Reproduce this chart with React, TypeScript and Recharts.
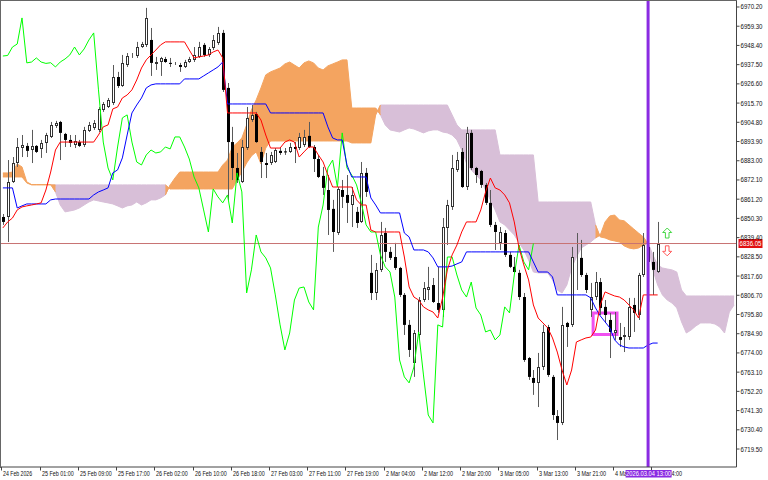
import React from "react";
import {
  ComposedChart,
  Bar,
  Line,
  Area,
  XAxis,
  YAxis,
  ReferenceLine,
  ReferenceArea,
  ReferenceDot,
} from "recharts";

const FONT = "'Liberation Sans', Arial, sans-serif";

// ---- candles (hourly) ----
const opens = [
  6851.1, 6851.1, 6871.0, 6881.7, 6890.2, 6891.4, 6889.1, 6891.4, 6889.7, 6893.1,
  6896.5, 6902.7, 6905.0, 6898.2, 6894.8, 6891.9, 6893.6, 6891.9, 6899.9, 6901.6,
  6900.5, 6911.8, 6913.5, 6915.8, 6930.5, 6925.4, 6937.3, 6942.2, 6942.4, 6947.5,
  6948.7, 6951.5, 6937.9, 6939.0, 6940.7, 6938.5, 6938.5, 6937.3, 6936.2, 6939.0,
  6940.2, 6941.9, 6948.7, 6943.0, 6947.0, 6949.8, 6955.5, 6924.3, 6893.6, 6878.9,
  6871.0, 6890.2, 6906.1, 6909.5, 6888.0, 6881.7, 6881.7, 6882.3, 6888.6, 6888.3,
  6888.0, 6890.8, 6890.2, 6891.9, 6897.1, 6890.8, 6884.0, 6874.4, 6866.4, 6855.7,
  6842.0, 6866.4, 6863.6, 6857.9, 6854.0, 6848.3, 6876.1, 6819.4, 6808.0, 6821.1,
  6842.0, 6831.3, 6828.4, 6822.2, 6806.9, 6789.9, 6768.3, 6784.2, 6804.0, 6809.7,
  6812.5, 6802.3, 6798.4, 6844.9, 6856.8, 6877.8, 6888.0, 6868.1, 6898.8, 6878.9,
  6877.2, 6869.3, 6859.1, 6846.6, 6836.4, 6842.0, 6829.6, 6822.8, 6819.4, 6805.7,
  6771.1, 6759.8, 6757.0, 6766.0, 6788.7, 6760.4, 6738.2, 6734.3, 6791.0, 6789.9,
  6827.9, 6827.9, 6818.2, 6798.4, 6805.7, 6814.2, 6800.1, 6792.7, 6785.3, 6783.0,
  6783.0, 6783.0, 6801.2, 6795.5, 6818.2, 6834.1, 6825.6, 6819.9,
];
const highs = [
  6852.8, 6883.4, 6885.1, 6895.9, 6897.6, 6893.1, 6900.5, 6891.9, 6894.8, 6898.8,
  6905.0, 6905.6, 6905.6, 6898.8, 6897.6, 6897.6, 6894.8, 6902.2, 6905.0, 6906.1,
  6913.5, 6916.3, 6918.6, 6937.3, 6933.4, 6943.0, 6944.1, 6944.1, 6950.4, 6950.4,
  6969.7, 6958.3, 6941.9, 6941.9, 6941.9, 6941.3, 6939.0, 6938.5, 6940.2, 6941.9,
  6947.5, 6950.4, 6949.8, 6947.5, 6954.3, 6958.9, 6957.2, 6927.1, 6902.2, 6887.4,
  6894.8, 6913.5, 6914.6, 6910.7, 6890.8, 6887.4, 6888.0, 6890.2, 6890.8, 6890.2,
  6893.1, 6893.6, 6898.8, 6900.5, 6905.0, 6891.9, 6886.3, 6879.5, 6874.9, 6860.8,
  6868.1, 6872.1, 6874.9, 6868.1, 6856.8, 6882.3, 6878.9, 6829.6, 6825.0, 6848.3,
  6844.9, 6834.1, 6836.4, 6822.8, 6808.0, 6792.7, 6787.0, 6805.7, 6814.2, 6822.8,
  6816.5, 6822.8, 6850.5, 6860.8, 6886.3, 6888.0, 6890.2, 6902.2, 6900.5, 6879.5,
  6877.8, 6870.4, 6866.4, 6848.3, 6845.4, 6843.7, 6831.3, 6828.4, 6821.1, 6808.0,
  6771.7, 6764.3, 6774.0, 6789.9, 6789.9, 6761.5, 6741.6, 6800.1, 6791.6, 6834.1,
  6842.0, 6838.1, 6819.4, 6813.7, 6819.9, 6816.5, 6804.0, 6796.7, 6797.2, 6791.0,
  6788.7, 6805.2, 6805.2, 6819.4, 6842.0, 6838.1, 6831.3, 6848.3,
];
const lows = [
  6846.6, 6836.9, 6870.4, 6879.5, 6885.1, 6885.1, 6881.7, 6887.4, 6884.6, 6887.4,
  6895.9, 6901.6, 6883.4, 6890.8, 6890.8, 6890.2, 6890.8, 6890.8, 6899.3, 6900.5,
  6899.3, 6910.7, 6912.9, 6914.6, 6924.3, 6924.9, 6936.2, 6941.3, 6941.3, 6947.0,
  6947.5, 6931.1, 6934.5, 6931.1, 6938.5, 6936.2, 6937.3, 6933.4, 6935.6, 6938.5,
  6939.0, 6941.3, 6941.9, 6941.9, 6945.8, 6948.7, 6922.0, 6860.8, 6872.1, 6870.4,
  6870.4, 6889.1, 6905.0, 6893.1, 6873.2, 6873.2, 6880.6, 6881.7, 6886.3, 6886.3,
  6887.4, 6881.7, 6889.1, 6890.8, 6890.2, 6876.6, 6873.2, 6863.6, 6840.9, 6831.3,
  6840.9, 6856.2, 6847.7, 6845.4, 6844.9, 6847.7, 6862.5, 6804.0, 6804.0, 6819.9,
  6825.6, 6826.7, 6821.1, 6805.7, 6784.2, 6771.7, 6760.4, 6781.4, 6802.9, 6804.0,
  6802.3, 6796.7, 6794.4, 6835.2, 6855.1, 6876.6, 6867.6, 6866.4, 6877.8, 6870.4,
  6867.6, 6857.9, 6845.4, 6832.4, 6832.4, 6828.4, 6822.2, 6819.4, 6804.0, 6768.9,
  6758.7, 6750.2, 6743.3, 6764.3, 6760.4, 6736.0, 6724.6, 6733.1, 6777.4, 6788.7,
  6809.7, 6817.1, 6808.0, 6794.4, 6804.0, 6795.5, 6791.0, 6771.1, 6781.4, 6777.4,
  6774.5, 6781.4, 6785.9, 6792.7, 6817.1, 6823.9, 6806.9, 6819.4,
];
const closes = [
  6848.3, 6871.0, 6881.7, 6890.8, 6891.9, 6888.6, 6891.4, 6888.0, 6893.1, 6897.6,
  6903.3, 6904.4, 6898.8, 6894.8, 6893.1, 6894.2, 6891.4, 6900.5, 6903.3, 6904.4,
  6912.4, 6915.2, 6917.5, 6930.5, 6925.4, 6938.5, 6942.4, 6942.7, 6947.5, 6949.2,
  6964.0, 6938.5, 6939.0, 6941.3, 6939.0, 6938.2, 6938.6, 6936.2, 6939.0, 6940.7,
  6943.0, 6947.5, 6943.0, 6946.4, 6951.5, 6955.5, 6923.2, 6893.6, 6878.9, 6872.1,
  6890.8, 6907.3, 6909.0, 6893.6, 6882.3, 6880.6, 6886.3, 6889.1, 6887.4, 6888.0,
  6890.8, 6889.7, 6896.5, 6896.5, 6890.8, 6884.0, 6873.8, 6867.6, 6855.1, 6842.6,
  6867.0, 6862.5, 6859.1, 6863.6, 6847.7, 6876.1, 6865.3, 6808.0, 6821.1, 6840.9,
  6831.3, 6827.9, 6822.2, 6806.9, 6789.9, 6775.7, 6785.3, 6804.0, 6810.8, 6811.4,
  6802.9, 6798.4, 6845.4, 6857.9, 6878.9, 6883.4, 6868.1, 6898.8, 6878.9, 6874.9,
  6869.3, 6859.1, 6846.6, 6842.6, 6842.6, 6829.6, 6822.8, 6819.9, 6805.7, 6770.0,
  6760.4, 6757.0, 6766.0, 6785.9, 6761.5, 6738.8, 6734.3, 6789.9, 6788.7, 6828.4,
  6828.4, 6818.2, 6809.7, 6805.7, 6814.2, 6799.5, 6795.5, 6785.9, 6787.0, 6781.4,
  6784.2, 6800.1, 6796.7, 6818.2, 6835.2, 6825.6, 6821.1, 6836.05,
];

// ---- Ichimoku lines ----
const tenkan = [
  6844.9, 6848.3, 6850.5, 6855.1, 6856.8, 6857.4, 6857.9, 6858.5, 6859.1, 6866.4,
  6876.6, 6889.1, 6893.6, 6893.6, 6893.6, 6893.6, 6893.6, 6893.6, 6893.6, 6893.6,
  6897.6, 6902.2, 6903.3, 6912.4, 6913.5, 6918.6, 6920.3, 6923.2, 6928.8, 6935.6,
  6940.2, 6943.0, 6945.8, 6948.7, 6950.4, 6950.4, 6950.4, 6950.4, 6950.4, 6945.8,
  6941.3, 6941.9, 6942.4, 6943.0, 6944.7, 6945.8, 6941.3, 6910.1, 6910.1, 6910.1,
  6910.1, 6910.1, 6910.1, 6910.1, 6906.1, 6897.6, 6890.2, 6890.2, 6890.2, 6893.6,
  6894.8, 6893.6, 6885.1, 6888.0, 6890.8, 6890.8, 6886.3, 6882.3, 6874.9, 6868.1,
  6868.1, 6868.1, 6868.1, 6868.1, 6860.8, 6857.9, 6857.9, 6843.7, 6842.6, 6842.6,
  6842.6, 6842.6, 6842.6, 6842.6, 6828.4, 6811.4, 6805.7, 6804.0, 6800.1, 6798.4,
  6797.2, 6793.8, 6805.2, 6821.1, 6829.6, 6835.2, 6842.6, 6848.3, 6848.3, 6848.3,
  6855.1, 6865.3, 6873.2, 6867.6, 6866.4, 6863.6, 6859.1, 6848.3, 6833.5, 6823.9,
  6815.4, 6801.2, 6793.8, 6791.0, 6788.2, 6782.5, 6774.5, 6764.3, 6755.8, 6764.3,
  6780.2, 6781.4, 6782.5, 6783.0, 6787.0, 6801.2, 6808.6, 6807.4, 6806.3, 6805.7,
  6804.0, 6801.2, 6798.4, 6793.8, 6806.9, 6806.9, 6806.9, 6806.9,
];
const kijun = [
  6867.6, 6867.6, 6867.6, 6856.2, 6857.4, 6858.5, 6858.5, 6858.5, 6858.5, 6858.5,
  6860.8, 6861.3, 6861.3, 6861.3, 6861.3, 6861.3, 6861.3, 6861.3, 6861.3, 6863.6,
  6865.3, 6866.4, 6867.6, 6876.1, 6877.8, 6884.6, 6897.6, 6910.1, 6914.6, 6918.6,
  6924.3, 6926.0, 6926.6, 6926.6, 6926.6, 6926.6, 6926.6, 6926.6, 6929.4, 6929.4,
  6929.4, 6929.4, 6931.1, 6932.8, 6934.5, 6936.2, 6939.0, 6915.2, 6915.2, 6915.2,
  6915.2, 6915.2, 6915.2, 6915.2, 6915.2, 6915.2, 6910.1, 6910.1, 6910.1, 6910.1,
  6910.1, 6910.1, 6910.1, 6910.1, 6910.1, 6910.1, 6910.1, 6910.1, 6902.2, 6895.9,
  6894.8, 6894.8, 6880.6, 6873.8, 6873.8, 6873.8, 6873.8, 6861.9, 6857.9, 6853.4,
  6853.4, 6853.4, 6853.4, 6853.4, 6842.0, 6839.8, 6832.4, 6832.4, 6832.4, 6831.3,
  6827.9, 6822.8, 6822.8, 6822.8, 6823.3, 6824.5, 6825.6, 6831.3, 6831.3, 6831.3,
  6831.3, 6831.3, 6831.3, 6831.3, 6831.3, 6831.3, 6831.3, 6831.3, 6831.3, 6831.3,
  6831.3, 6825.6, 6819.9, 6819.9, 6819.9, 6817.1, 6806.9, 6806.9, 6806.9, 6806.9,
  6806.9, 6806.9, 6806.9, 6805.2, 6799.5, 6795.0, 6791.6, 6788.2, 6781.4, 6778.5,
  6777.4, 6776.8, 6776.8, 6776.8, 6776.8, 6778.5, 6779.6, 6779.6,
];
// Senkou spans as plotted (already shifted 26 bars forward)
const spanA = [
  6876.1, 6876.1, 6876.6, 6881.2, 6879.5, 6871.0, 6869.5, 6869.5, 6869.5, 6869.5,
  6869.5, 6865.3, 6857.9, 6854.0, 6854.5, 6855.1, 6856.2, 6857.9, 6859.6, 6860.8,
  6860.2, 6859.6, 6859.1, 6858.5, 6857.4, 6856.2, 6857.4, 6857.9, 6859.6, 6857.9,
  6859.1, 6860.8, 6860.8, 6861.9, 6863.6, 6869.3, 6873.2, 6876.6, 6876.6, 6876.6,
  6876.6, 6876.6, 6876.6, 6876.6, 6876.6, 6876.6, 6880.6, 6883.4, 6890.8, 6893.1,
  6895.9, 6903.3, 6911.8, 6917.5, 6924.3, 6931.7, 6933.4, 6934.5, 6935.6, 6937.9,
  6939.0, 6937.3, 6935.6, 6938.5, 6939.6, 6938.5, 6935.6, 6934.5, 6936.8, 6937.9,
  6939.0, 6940.2, 6940.2, 6912.9, 6912.9, 6912.9, 6912.9, 6912.9, 6912.9, 6909.0,
  6903.3, 6900.5, 6899.9, 6899.3, 6900.5, 6901.6, 6901.0, 6899.9, 6898.8, 6899.9,
  6900.5, 6900.5, 6899.3, 6898.8, 6897.6, 6894.8, 6889.1, 6881.7, 6877.8, 6874.9,
  6872.1, 6866.4, 6860.8, 6855.1, 6848.3, 6846.6, 6843.7, 6840.9, 6836.4, 6832.4,
  6826.7, 6819.9, 6819.4, 6819.4, 6819.4, 6815.4, 6809.7, 6808.0, 6812.5, 6822.2,
  6828.4, 6833.5, 6835.2, 6836.9, 6839.2, 6840.9, 6848.3, 6851.7, 6852.2, 6849.4,
  6848.9, 6846.6, 6844.3, 6842.0, 6839.8, 6835.8, 6821.1, 6812.5, 6806.9, 6804.0,
  6802.3, 6799.5, 6791.6, 6785.3, 6787.0, 6789.3, 6791.0, 6791.0, 6791.0, 6790.4,
  6788.7, 6785.3, 6797.2, 6801.2,
];
const spanB = [
  6873.8, 6873.8, 6873.8, 6873.8, 6873.8, 6870.4, 6869.3, 6869.3, 6869.3, 6869.3,
  6869.3, 6869.3, 6869.3, 6869.3, 6869.3, 6869.3, 6869.3, 6869.3, 6869.3, 6869.3,
  6869.3, 6869.3, 6869.3, 6869.3, 6869.3, 6869.3, 6869.3, 6869.3, 6869.3, 6869.3,
  6869.3, 6869.3, 6869.3, 6869.3, 6869.3, 6867.0, 6867.0, 6867.0, 6867.0, 6867.0,
  6867.0, 6867.0, 6867.0, 6867.0, 6867.0, 6867.0, 6867.0, 6867.0, 6867.0, 6872.1,
  6876.6, 6881.7, 6885.7, 6888.0, 6881.2, 6890.2, 6894.2, 6894.2, 6894.2, 6894.2,
  6894.2, 6894.2, 6894.2, 6894.2, 6894.2, 6894.2, 6894.2, 6894.2, 6894.2, 6894.2,
  6894.2, 6894.2, 6894.2, 6893.1, 6893.1, 6893.1, 6893.1, 6893.1, 6909.0, 6914.6,
  6914.6, 6914.6, 6914.6, 6914.6, 6914.6, 6914.6, 6914.6, 6914.6, 6914.6, 6914.6,
  6914.6, 6914.6, 6914.6, 6914.6, 6909.0, 6903.3, 6900.5, 6900.5, 6900.5, 6900.5,
  6900.5, 6900.5, 6900.5, 6900.5, 6886.3, 6886.3, 6886.3, 6886.3, 6886.3, 6886.3,
  6886.3, 6886.3, 6859.6, 6859.6, 6859.6, 6859.6, 6859.6, 6859.6, 6859.6, 6859.6,
  6859.6, 6859.6, 6859.6, 6859.6, 6846.6, 6839.8, 6839.2, 6838.1, 6837.5, 6836.9,
  6834.7, 6833.5, 6833.0, 6833.5, 6835.2, 6836.4, 6829.6, 6823.9, 6822.2, 6821.6,
  6821.1, 6819.9, 6809.7, 6806.3, 6806.3, 6806.3, 6806.3, 6806.3, 6806.3, 6806.3,
  6806.3, 6806.3, 6806.3, 6806.3,
];

const CHIKOU_SHIFT = 26;
const timeLabels = [
  "24 Feb 2026", "25 Feb 01:00", "25 Feb 09:00", "25 Feb 17:00", "26 Feb 02:00",
  "26 Feb 10:00", "26 Feb 18:00", "27 Feb 03:00", "27 Feb 11:00", "27 Feb 19:00",
  "2 Mar 04:00", "2 Mar 12:00", "2 Mar 20:00", "3 Mar 05:00", "3 Mar 13:00",
  "3 Mar 21:00", "4 Mar 06:00", "4 Mar 14:00",
];
const LABEL_EVERY = 8;
const priceTicks = [
  6970.2, 6959.3, 6948.4, 6937.5, 6926.6, 6915.7, 6904.8, 6893.9, 6883.0, 6872.1,
  6861.2, 6850.3, 6839.4, 6828.5, 6817.6, 6806.7, 6795.8, 6784.9, 6774.0, 6763.1,
  6752.2, 6741.3, 6730.4, 6719.5,
];
const Y_DOMAIN = [6709.3, 6973.6];
const LAST_PRICE = 6836.05;
const CURSOR_BAR = 135;
const CURSOR_LABEL = "2026.03.04 13:00";
const BOX_X1 = 124;
const BOX_X2 = 128;
const BOX_Y1 = 6784.5;
const BOX_Y2 = 6796.7;
const ARROW_BAR = 139;
const ARROW_UP_PRICE = 6842.0;
const ARROW_DOWN_PRICE = 6831.9;

// layout
const CHART_W = 768;
const CHART_H = 480;
const MARGIN_LEFT = 0.5;
const Y_AXIS_W = 31.5;

const isUp = (k: number) => spanA[k] >= spanB[k];

const data = spanA.map((a, i) => {
  const b = spanB[i];
  const has = i < closes.length;
  const up = isUp(i);
  const prevUp = i > 0 ? isUp(i - 1) : up;
  const nextUp = i < spanA.length - 1 ? isUp(i + 1) : up;
  return {
    i,
    open: has ? opens[i] : null,
    high: has ? highs[i] : null,
    low: has ? lows[i] : null,
    close: has ? closes[i] : null,
    range: has ? [lows[i], highs[i]] : null,
    tenkan: i < tenkan.length ? tenkan[i] : null,
    kijun: i < kijun.length ? kijun[i] : null,
    chikou: i + CHIKOU_SHIFT < closes.length ? closes[i + CHIKOU_SHIFT] : null,
    cloudUp: up || prevUp || nextUp ? [b, a] : null,
    cloudDown: !up || !prevUp || !nextUp ? [a, b] : null,
  };
});

const BAND = (CHART_W - MARGIN_LEFT - Y_AXIS_W) / data.length;
// the time label drawn right after the cursor; the cursor tag is drawn with it so it sits on top
const CURSOR_HOST = Math.ceil(CURSOR_BAR / LABEL_EVERY) * LABEL_EVERY;

const Candle = (props: any) => {
  const { x, y, width, height, payload } = props;
  if (!payload || payload.open == null || x == null || y == null) return null;
  const top = Math.min(y, y + height);
  const h = Math.abs(height);
  const { open, close, high, low } = payload;
  const span = high - low;
  const toY = (v: number) => (span === 0 ? top : top + ((high - v) / span) * h);
  const c = Math.round(x + width / 2);
  const bTop = toY(Math.max(open, close));
  const bBot = toY(Math.min(open, close));
  const bull = close > open;
  return (
    <g>
      <line x1={c + 0.5} x2={c + 0.5} y1={top} y2={top + h} stroke="#5a5a5a" strokeWidth={1} />
      {bull ? (
        <rect
          x={c - 0.5}
          y={Math.round(bTop) + 0.5}
          width={2}
          height={Math.max(Math.round(bBot) - Math.round(bTop) - 1, 0)}
          fill="#ffffff"
          stroke="#333"
          strokeWidth={1}
        />
      ) : (
        <rect x={c - 1} y={bTop} width={3} height={Math.max(bBot - bTop, 1)} fill="#000" />
      )}
    </g>
  );
};

const CursorTag = ({ cx, y }: { cx: number; y: number }) => (
  <g>
    <rect x={cx - 22.5} y={y + 3} width={46} height={7.5} fill="#8a2be2" />
    <text
      x={cx - 22}
      y={y + 9}
      fontSize={6.5}
      fontFamily={FONT}
      fill="#fff"
      textLength={45}
      lengthAdjust="spacingAndGlyphs"
    >
      {CURSOR_LABEL}
    </text>
  </g>
);

const XTick = (props: any) => {
  const { x, y, payload } = props;
  const idx = Number(payload.value);
  const label = idx % LABEL_EVERY === 0 ? timeLabels[idx / LABEL_EVERY] : undefined;
  if (!label) return null;
  const tx = Math.round(x - 1.5) + 0.5;
  return (
    <g>
      <line x1={tx} x2={tx} y1={y} y2={y + 3.5} stroke="#444" />
      <text
        x={tx + 1.5}
        y={y + 8.5}
        fontSize={7}
        fontFamily={FONT}
        fill="#111"
        textAnchor="start"
        textLength={label.length * 2.65}
        lengthAdjust="spacingAndGlyphs"
      >
        {label}
      </text>
      {idx === CURSOR_HOST ? <CursorTag cx={x - (idx - CURSOR_BAR) * BAND} y={y} /> : null}
    </g>
  );
};

const YTick = (props: any) => {
  const { x, y, payload } = props;
  return (
    <text
      x={x}
      y={y}
      dy={2.5}
      fontSize={7}
      fontFamily={FONT}
      fill="#111"
      textAnchor="start"
      textLength={22}
      lengthAdjust="spacingAndGlyphs"
    >
      {Number(payload.value).toFixed(2)}
    </text>
  );
};

const PriceTag = (props: any) => {
  const vb = props.viewBox || {};
  const right = (vb.x || 0) + (vb.width || 0);
  const yy = vb.y || 0;
  return (
    <g>
      <rect x={right + 2} y={yy - 4.5} width={24} height={9} fill="#e01010" />
      <text
        x={right + 3}
        y={yy + 2.5}
        fontSize={7}
        fontFamily={FONT}
        fill="#fff"
        textLength={22}
        lengthAdjust="spacingAndGlyphs"
      >
        {LAST_PRICE.toFixed(2)}
      </text>
    </g>
  );
};

const Arrow = (props: any) => {
  const { cx, cy, dir } = props;
  if (cx == null || cy == null) return null;
  const s = dir === "up" ? 1 : -1;
  const pts = [
    [cx, cy - 5 * s],
    [cx + 4.5, cy - 0.5 * s],
    [cx + 1.8, cy - 0.5 * s],
    [cx + 1.8, cy + 5 * s],
    [cx - 1.8, cy + 5 * s],
    [cx - 1.8, cy - 0.5 * s],
    [cx - 4.5, cy - 0.5 * s],
  ]
    .map((p) => p.join(","))
    .join(" ");
  return (
    <polygon
      points={pts}
      fill="#fff"
      stroke={dir === "up" ? "#44d844" : "#ff5a5a"}
      strokeWidth={1}
    />
  );
};

export default function App() {
  return (
    <div
      style={{
        position: "absolute",
        left: 0,
        top: 0,
        width: CHART_W,
        height: CHART_H,
        background: "#fff",
        overflow: "hidden",
      }}
    >
      <ComposedChart
        width={CHART_W}
        height={CHART_H}
        data={data}
        margin={{ top: 1, right: 0, bottom: 0, left: MARGIN_LEFT }}
      >
        <XAxis
          dataKey="i"
          type="category"
          interval={LABEL_EVERY - 1}
          height={13}
          axisLine={{ stroke: "#444" }}
          tickLine={false}
          tickSize={0}
          tickMargin={0}
          tick={<XTick />}
        />
        <YAxis
          orientation="right"
          type="number"
          domain={Y_DOMAIN}
          allowDataOverflow
          ticks={priceTicks}
          interval={0}
          width={Y_AXIS_W}
          axisLine={{ stroke: "#444" }}
          tickLine={{ stroke: "#444" }}
          tickSize={3}
          tickMargin={1}
          tick={<YTick />}
        />
        <Area
          dataKey="cloudDown"
          type="linear"
          fill="#d8bfd8"
          stroke="#d8bfd8"
          strokeWidth={1}
          fillOpacity={1}
          dot={false}
          activeDot={false}
          connectNulls={false}
          isAnimationActive={false}
        />
        <Area
          dataKey="cloudUp"
          type="linear"
          fill="#f4a460"
          stroke="#f4a460"
          strokeWidth={1}
          fillOpacity={1}
          dot={false}
          activeDot={false}
          connectNulls={false}
          isAnimationActive={false}
        />
        <ReferenceLine y={LAST_PRICE} stroke="#c87272" strokeWidth={1} label={(p: any) => <PriceTag {...p} />} />
        <Bar
          dataKey="range"
          barSize={3}
          shape={(p: any) => <Candle {...p} />}
          isAnimationActive={false}
        />
        <Line dataKey="chikou" type="linear" stroke="#00ff00" strokeWidth={1} dot={false} activeDot={false} connectNulls={false} isAnimationActive={false} />
        <Line dataKey="kijun" type="linear" stroke="#0000ff" strokeWidth={1} dot={false} activeDot={false} connectNulls={false} isAnimationActive={false} />
        <Line dataKey="tenkan" type="linear" stroke="#ff0000" strokeWidth={1} dot={false} activeDot={false} connectNulls={false} isAnimationActive={false} />
        <ReferenceArea
          x1={BOX_X1}
          x2={BOX_X2}
          y1={BOX_Y1}
          y2={BOX_Y2}
          fill="none"
          fillOpacity={0}
          stroke="#f050f0"
          strokeWidth={3}
          ifOverflow="visible"
        />
        <ReferenceDot
          x={ARROW_BAR}
          y={ARROW_UP_PRICE}
          r={5}
          ifOverflow="visible"
          shape={(p: any) => <Arrow {...p} dir="up" />}
        />
        <ReferenceDot
          x={ARROW_BAR}
          y={ARROW_DOWN_PRICE}
          r={5}
          ifOverflow="visible"
          shape={(p: any) => <Arrow {...p} dir="down" />}
        />
        <ReferenceLine x={CURSOR_BAR} stroke="#8a2be2" strokeWidth={3} />
      </ComposedChart>
      <div
        style={{
          position: "absolute",
          left: 0,
          top: 0,
          width: 736,
          height: 467,
          borderLeft: "1px solid #666",
          borderTop: "1px solid #666",
          pointerEvents: "none",
        }}
      />
    </div>
  );
}
